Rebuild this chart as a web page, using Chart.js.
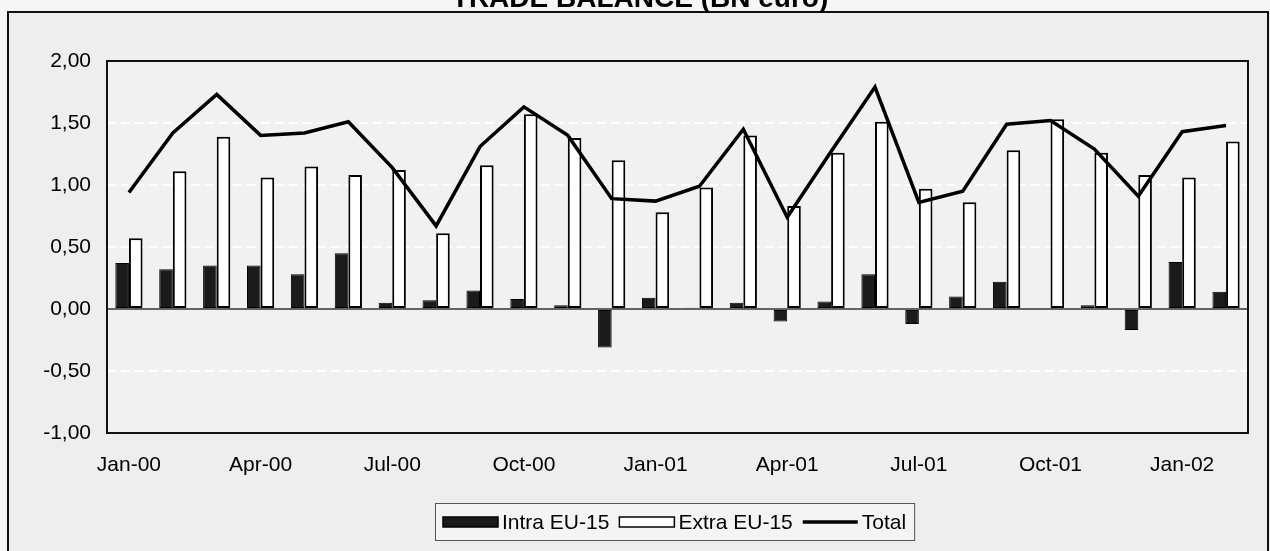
<!DOCTYPE html>
<html>
<head>
<meta charset="utf-8">
<script src="https://cdn.jsdelivr.net/npm/chart.js@4"></script>
<style>
  html, body { margin: 0; padding: 0; background: #eeeeee; }
  #wrap { width: 1270px; height: 551px; position: relative; }
</style>
</head>
<body>
<div id="wrap"><canvas id="c" width="1270" height="551"></canvas></div>
<script>
const categories = ["Jan-00","Feb-00","Mar-00","Apr-00","May-00","Jun-00","Jul-00","Aug-00","Sep-00","Oct-00","Nov-00","Dec-00",
  "Jan-01","Feb-01","Mar-01","Apr-01","May-01","Jun-01","Jul-01","Aug-01","Sep-01","Oct-01","Nov-01","Dec-01",
  "Jan-02","Feb-02"];
const intraEU15 = [0.37,0.32,0.35,0.35,0.28,0.45,0.05,0.07,0.15,0.08,0.03,-0.31,
  0.09,0.01,0.05,-0.10,0.06,0.28,-0.12,0.10,0.22,0.00,0.03,-0.17,0.38,0.14];
const extraEU15 = [0.57,1.11,1.39,1.06,1.15,1.08,1.12,0.61,1.16,1.57,1.38,1.20,
  0.78,0.98,1.40,0.83,1.26,1.51,0.97,0.86,1.28,1.53,1.26,1.08,1.06,1.35];
const total = [0.94,1.42,1.73,1.40,1.42,1.51,1.14,0.67,1.31,1.63,1.40,0.89,
  0.87,0.99,1.45,0.74,1.27,1.79,0.86,0.95,1.49,1.52,1.29,0.91,1.43,1.48];
const yTickValues = [-1, -0.5, 0, 0.5, 1, 1.5, 2];
const xTickLabels = ["Jan-00","Apr-00","Jul-00","Oct-00","Jan-01","Apr-01","Jul-01","Oct-01","Jan-02"];
const titleText = "TRADE BALANCE (BN euro)";
const seriesNames = ["Intra EU-15", "Extra EU-15", "Total"];

const FONT = "'Liberation Sans', Arial, sans-serif";
const FS = 21;

const decorPlugin = {
  id: 'decor',
  beforeDraw(chart) {
    const ctx = chart.ctx;
    const a = chart.chartArea;
    ctx.save();
    ctx.fillStyle = '#eeeeee';
    ctx.fillRect(0, 0, chart.width, chart.height);
    ctx.fillStyle = '#f6f6f6';
    ctx.fillRect(0, 0, chart.width, 11);
    ctx.fillRect(0, 0, 7, chart.height);
    ctx.fillStyle = '#f1f1f1';
    ctx.fillRect(a.left, a.top, a.right - a.left, a.bottom - a.top);
    ctx.strokeStyle = '#111';
    ctx.lineWidth = 2;
    ctx.beginPath();
    ctx.moveTo(8, chart.height + 2);
    ctx.lineTo(8, 12);
    ctx.lineTo(1268, 12);
    ctx.lineTo(1268, chart.height + 2);
    ctx.stroke();
    ctx.fillStyle = '#000';
    ctx.font = "bold 28px " + FONT;
    ctx.textAlign = 'center';
    ctx.textBaseline = 'alphabetic';
    ctx.fillText(titleText, 640, 7);
    ctx.restore();
  },
  beforeDatasetsDraw(chart) {
    const ctx = chart.ctx;
    const a = chart.chartArea;
    const y0 = chart.scales.y.getPixelForValue(0);
    ctx.save();
    ctx.strokeStyle = '#333';
    ctx.lineWidth = 1.5;
    ctx.beginPath();
    ctx.moveTo(a.left, y0);
    ctx.lineTo(a.right, y0);
    ctx.stroke();
    ctx.restore();
  },
  afterDraw(chart) {
    const ctx = chart.ctx;
    const a = chart.chartArea;
    ctx.save();
    ctx.strokeStyle = '#111';
    ctx.lineWidth = 2;
    ctx.strokeRect(a.left, a.top, a.right - a.left, a.bottom - a.top);

    ctx.font = FS + "px " + FONT;
    ctx.textBaseline = 'middle';
    ctx.textAlign = 'left';
    const cy = 522;
    const sw = 55;
    let x = 443;
    const items = chart.data.datasets;
    const boxLeft = 435;
    let wTot = 0;
    items.forEach((d, i) => {
      wTot += sw + 4 + ctx.measureText(d.label).width + (i < items.length - 1 ? 10 : 0);
    });
    const boxRight = x + wTot + 8;
    ctx.fillStyle = '#f4f4f4';
    ctx.fillRect(boxLeft, 503, boxRight - boxLeft, 37);
    ctx.strokeStyle = '#555';
    ctx.lineWidth = 1;
    ctx.strokeRect(boxLeft + 0.5, 503.5, boxRight - boxLeft, 37);
    items.forEach((d) => {
      if (d.type === 'line') {
        ctx.strokeStyle = '#000';
        ctx.lineWidth = 3.5;
        ctx.beginPath();
        ctx.moveTo(x, cy);
        ctx.lineTo(x + sw, cy);
        ctx.stroke();
      } else {
        ctx.fillStyle = d.backgroundColor;
        ctx.fillRect(x, cy - 5, sw, 10);
        ctx.strokeStyle = '#000';
        ctx.lineWidth = 1.5;
        ctx.strokeRect(x, cy - 5, sw, 10);
      }
      x += sw + 4;
      ctx.fillStyle = '#000';
      ctx.fillText(d.label, x, cy + 1);
      x += ctx.measureText(d.label).width + 10;
    });
    ctx.restore();
  }
};

new Chart(document.getElementById('c'), {
  type: 'bar',
  data: {
    labels: categories,
    datasets: [
      {
        label: seriesNames[0], data: intraEU15,
        backgroundColor: '#1b1b1b', borderColor: '#000', borderWidth: 1,
        borderSkipped: false, order: 1
      },
      {
        label: seriesNames[1], data: extraEU15,
        backgroundColor: '#ffffff', borderColor: '#000', borderWidth: 2,
        borderSkipped: false, order: 2
      },
      {
        type: 'line', label: seriesNames[2], data: total,
        borderColor: '#000', borderWidth: 3.5, pointRadius: 0, tension: 0,
        fill: false, order: 0
      }
    ]
  },
  options: {
    responsive: false,
    animation: false,
    devicePixelRatio: 1,
    datasets: { bar: { categoryPercentage: 0.62, barPercentage: 1.0 } },
    layout: { padding: { top: 61, right: 22, left: 0, bottom: 0 } },
    plugins: { legend: { display: false }, tooltip: { enabled: false }, title: { display: false } },
    scales: {
      x: {
        offset: true,
        grid: { display: false, drawTicks: false },
        border: { display: false },
        ticks: {
          autoSkip: false, maxRotation: 0, padding: 20,
          color: '#000', font: { family: FONT, size: FS },
          callback: function(v, i) {
            const lab = categories[i];
            return xTickLabels.includes(lab) ? lab : '';
          }
        },
        afterFit: s => { s.height = 118; }
      },
      y: {
        min: -1, max: 2,
        afterBuildTicks: s => { s.ticks = yTickValues.map(v => ({ value: v })); },
        grid: {
          drawTicks: false,
          color: ctx => {
            const v = ctx.tick ? ctx.tick.value : null;
            if (v === -1 || v === 2 || v === 0) return 'rgba(0,0,0,0)';
            return '#ffffff';
          },
          lineWidth: 2
        },
        border: { display: false, dash: [9, 5] },
        ticks: {
          padding: 16, color: '#000', font: { family: FONT, size: FS },
          callback: v => v.toFixed(2).replace('.', ',')
        },
        afterFit: s => { s.width = 107; }
      }
    }
  },
  plugins: [decorPlugin]
});
</script>
</body>
</html>
